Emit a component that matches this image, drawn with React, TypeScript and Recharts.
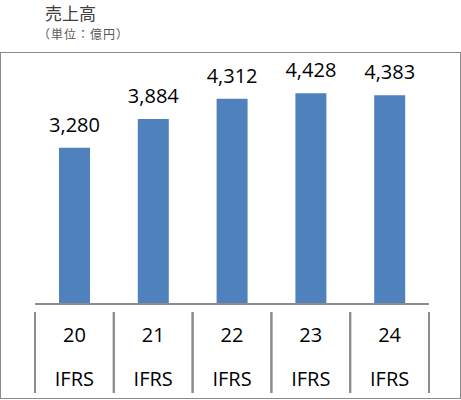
import React from "react";
import { BarChart, Bar, XAxis, YAxis, LabelList } from "recharts";

const years = ["20", "21", "22", "23", "24"];
const standards = ["IFRS", "IFRS", "IFRS", "IFRS", "IFRS"];
const sales = [3280, 3884, 4312, 4428, 4383];

const data = years.map((y, i) => ({ year: y, std: standards[i], value: sales[i] }));

const CELL_W = 394 / years.length;
const LINE = "#8c8c8c";

const CategoryTick = (props: any) => {
  const { x, y, payload, index } = props;
  const std = standards[index] ?? "IFRS";
  const left = x - CELL_W / 2;
  const right = x + CELL_W / 2;
  return (
    <g>
      <line x1={left} y1={y} x2={left} y2={393} stroke={LINE} strokeWidth={2} />
      <line x1={right} y1={y} x2={right} y2={393} stroke={LINE} strokeWidth={2} />
      <text
        x={x}
        y={342}
        textAnchor="middle"
        fontFamily="'Open Sans', sans-serif"
        fontSize={20}
        fill="#000"
      >
        {payload.value}
      </text>
      <text
        x={x}
        y={386}
        textAnchor="middle"
        fontFamily="'Open Sans', sans-serif"
        fontSize={20}
        fill="#000"
      >
        {std}
      </text>
    </g>
  );
};

const ValueLabel = (props: any) => {
  const { x, y, width, value } = props;
  return (
    <text
      x={x + width / 2}
      y={y - 16}
      textAnchor="middle"
      fontFamily="'Open Sans', sans-serif"
      fontSize={20}
      fill="#000"
    >
      {Number(value).toLocaleString("en-US")}
    </text>
  );
};

export default function App() {
  return (
    <div style={{ position: "absolute", left: 0, top: 0, width: 461, height: 400, background: "#fff" }}>
      <div
        style={{
          position: "absolute",
          left: 0,
          top: 52,
          width: 461,
          height: 347,
          border: "1px solid #8a8a8a",
          boxSizing: "border-box",
        }}
      />
      <svg
        width={461}
        height={50}
        style={{ position: "absolute", left: 0, top: 0 }}
      >
        <text
          x={45}
          y={20}
          fontFamily="'Noto Sans CJK JP', sans-serif"
          fontSize={17}
          fill="#404040"
        >
          売上高
        </text>
        <text
          x={38}
          y={39}
          fontFamily="'Noto Sans CJK JP', sans-serif"
          fontSize={12}
          letterSpacing={1}
          fill="#595959"
        >
          （単位：億円）
        </text>
      </svg>
      <div style={{ position: "absolute", left: 0, top: 0 }}>
        <BarChart
          width={461}
          height={400}
          data={data}
          margin={{ top: 66, right: 32, left: 35, bottom: 0 }}
          barCategoryGap={0}
        >
          <YAxis hide domain={[0, 5000]} />
          <XAxis
            dataKey="year"
            height={96}
            axisLine={{ stroke: LINE, strokeWidth: 2 }}
            tickLine={false}
            tick={<CategoryTick />}
            interval={0}
          />
          <Bar dataKey="value" fill="#4f81bd" barSize={31} isAnimationActive={false}>
            <LabelList dataKey="value" content={<ValueLabel />} />
          </Bar>
        </BarChart>
      </div>
    </div>
  );
}
